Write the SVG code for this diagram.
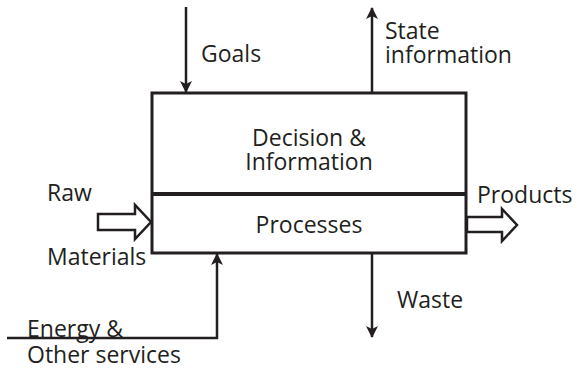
<svg xmlns="http://www.w3.org/2000/svg" width="580" height="371" viewBox="0 0 580 371">
<defs>
<style>
text{font-family:"Open Sans","Noto Sans","DejaVu Sans",sans-serif;font-size:23px;fill:#231f20}
.ln{stroke:#231f20;stroke-width:2.5;fill:none}
.blk{stroke:#231f20;stroke-width:2.5;fill:#fff;stroke-linejoin:miter}
</style>
<marker id="ah" viewBox="0 0 12 12" refX="11" refY="6" markerWidth="12" markerHeight="12" markerUnits="userSpaceOnUse" orient="auto">
<path d="M0,0 L12,6 L0,12 L3,6 Z" fill="#231f20"/>
</marker>
</defs>
<rect width="580" height="371" fill="#fff"/>
<g id="system">
<rect x="152" y="93" width="314" height="160" fill="#fff" stroke="#231f20" stroke-width="3"/>
<line x1="152" y1="194" x2="466" y2="194" stroke="#231f20" stroke-width="4"/>
</g>
<g id="decision">
<text x="309" y="146" text-anchor="middle">Decision &amp;</text>
<text x="309" y="170" text-anchor="middle">Information</text>
</g>
<g id="processes">
<text x="309" y="233" text-anchor="middle">Processes</text>
</g>
<g id="connectors">
<line class="ln" x1="186" y1="7" x2="186" y2="92" marker-end="url(#ah)"/>
<line class="ln" x1="372" y1="92" x2="372" y2="8" marker-end="url(#ah)"/>
<line class="ln" x1="372" y1="254" x2="372" y2="337" marker-end="url(#ah)"/>
<polyline class="ln" points="7,338 217,338 217,254" marker-end="url(#ah)"/>
<polygon class="blk" points="98,214 135,214 135,205 151,222 135,239 135,230 98,230"/>
<polygon class="blk" points="467,217 502,217 502,209 517,225 502,241 502,232 467,232"/>
</g>
<g id="labels">
<text x="201" y="62">Goals</text>
<text x="385" y="39">State</text>
<text x="385" y="63">information</text>
<text x="47" y="201">Raw</text>
<text x="47" y="265">Materials</text>
<text x="477" y="203">Products</text>
<text x="397" y="308">Waste</text>
<text x="27" y="337">Energy &amp;</text>
<text x="27" y="363">Other services</text>
</g>
</svg>
